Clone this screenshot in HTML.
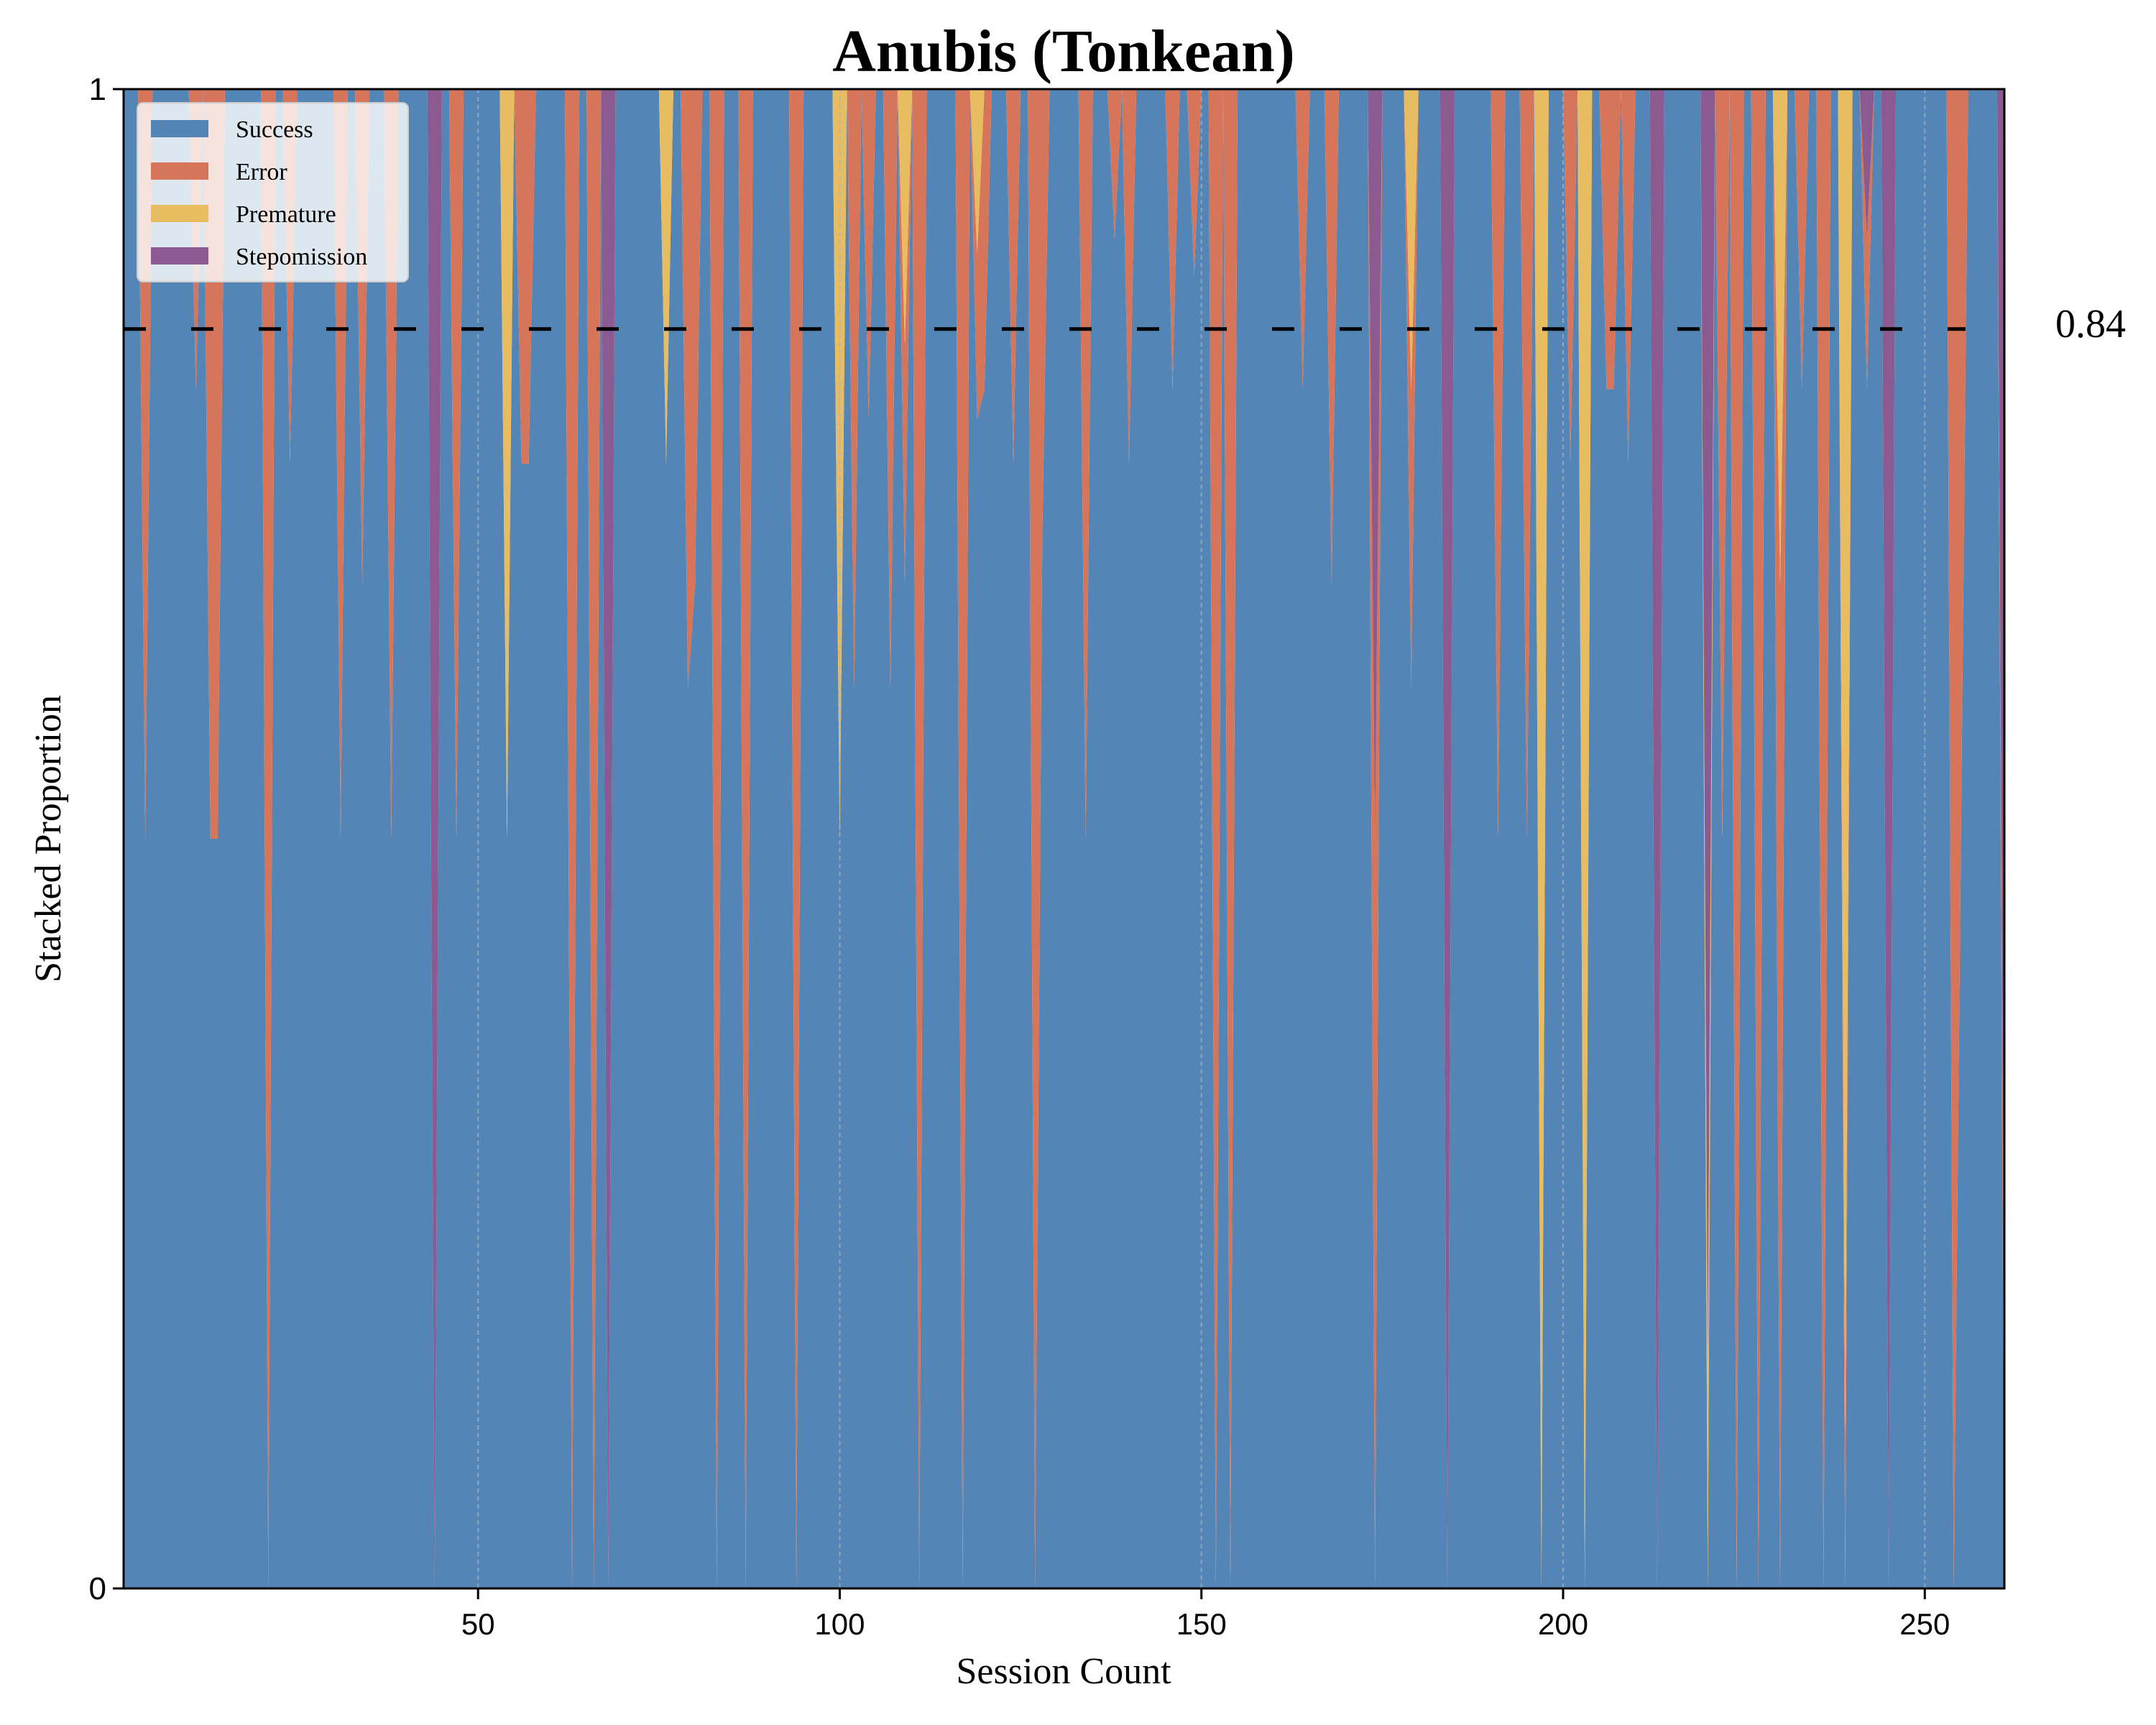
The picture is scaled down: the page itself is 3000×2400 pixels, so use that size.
<!DOCTYPE html>
<html><head><meta charset="utf-8"><style>
html,body{margin:0;padding:0;background:#fff;}
svg{display:block;}
</style></head><body>
<svg id="chart" width="3000" height="2400" viewBox="0 0 3000 2400" xmlns="http://www.w3.org/2000/svg">
<rect x="0" y="0" width="3000" height="2400" fill="#fff"/>
<g id="bands"></g>
<g id="grid"></g>
<g id="ref"></g>
<rect x="172" y="124" width="2617" height="2086" fill="none" stroke="#000" stroke-width="3"/>
<g id="ticks"></g>
<text x="1480" y="99" text-anchor="middle" font-family="Liberation Serif, serif" font-weight="bold" font-size="84">Anubis (Tonkean)</text>
<text x="1480" y="2342" text-anchor="middle" font-family="Liberation Serif, serif" font-size="52">Session Count</text>
<text transform="translate(84,1167) rotate(-90)" text-anchor="middle" font-family="Liberation Serif, serif" font-size="52">Stacked Proportion</text>
<text x="2860" y="469" font-family="Liberation Serif, serif" font-size="56">0.84</text>
<g>
<rect x="191" y="143" width="377" height="249" rx="8" fill="#fff" fill-opacity="0.8" stroke="#ccc" stroke-width="2"/>
<g><rect x="210" y="167" width="80" height="24" fill="#5385b6"/><text x="328" y="191" font-family="Liberation Serif, serif" font-size="34">Success</text></g>
<g><rect x="210" y="226" width="80" height="24" fill="#d6755a"/><text x="328" y="250" font-family="Liberation Serif, serif" font-size="34">Error</text></g>
<g><rect x="210" y="285" width="80" height="24" fill="#e8bc60"/><text x="328" y="309" font-family="Liberation Serif, serif" font-size="34">Premature</text></g>
<g><rect x="210" y="344" width="80" height="24" fill="#8b5a91"/><text x="328" y="368" font-family="Liberation Serif, serif" font-size="34">Stepomission</text></g>
</g>
</svg>
<script>
const sessionCount = 261;
const errorPoints = [[4,0.5],[11,0.2],[13,0.5],[14,0.5],[21,1],[24,0.25],[31,0.5],[34,0.33],[38,0.5],[47,0.5],[56,0.25],[57,0.25],[63,1],[66,1],[79,0.4],[80,0.33],[83,1],[87,1],[94,1],[102,0.4],[104,0.22],[107,0.4],[109,0.16],[111,1],[117,1],[119,0.11],[120,0.2],[124,0.25],[127,1],[128,0.3],[134,0.5],[138,0.1],[140,0.25],[146,0.2],[149,0.125],[152,1],[154,1],[164,0.2],[168,0.33],[174,0.5],[179,0.2],[191,0.5],[195,0.5],[201,0.25],[206,0.2],[207,0.2],[209,0.25],[222,0.5],[224,1],[227,1],[230,0.67],[233,0.2],[236,1],[239,0.1],[242,0.1],[254,1],[255,0.5],[261,0.15]];
const prematurePoints = [[54,0.5],[76,0.25],[100,0.5],[109,0.17],[119,0.11],[179,0.2],[197,1],[203,1],[220,0.15],[230,0.33],[239,0.9]];
const stepPoints = [[44,1],[68,1],[174,0.5],[184,1],[213,1],[220,0.85],[242,0.1],[245,1],[261,0.85]];
const xTicks = [50,100,150,200,250];
const yTicks = [0,1];
const refValue = 0.84;

const NS='http://www.w3.org/2000/svg';
const L=172,R=2789,T=124,B=2210;
function xs(s){return L+(s-1)*(R-L)/(sessionCount-1);}
function ys(v){return B-v*(B-T);}
function expand(pts){const a=new Array(sessionCount).fill(0);pts.forEach(p=>{a[p[0]-1]=p[1];});return a;}
const err=expand(errorPoints), pre=expand(prematurePoints), stp=expand(stepPoints);
const suc=err.map((e,i)=>Math.max(0,1-e-pre[i]-stp[i]));
const series=[['success',suc,'#5385b6'],['error',err,'#d6755a'],['premature',pre,'#e8bc60'],['stepomission',stp,'#8b5a91']];
const bands=document.getElementById('bands');
let base=new Array(sessionCount).fill(0);
series.forEach(([name,vals,col])=>{
  const top=base.map((b,i)=>b+vals[i]);
  let d='M';
  for(let i=0;i<sessionCount;i++) d+=(i?' L':'')+xs(i+1).toFixed(2)+' '+ys(top[i]).toFixed(2);
  for(let i=sessionCount-1;i>=0;i--) d+=' L'+xs(i+1).toFixed(2)+' '+ys(base[i]).toFixed(2);
  d+=' Z';
  const p=document.createElementNS(NS,'path');
  p.setAttribute('d',d);p.setAttribute('fill',col);
  
  
  bands.appendChild(p);
  base=top;
});
const grid=document.getElementById('grid'), ticks=document.getElementById('ticks');
xTicks.forEach(t=>{
  const g=document.createElementNS(NS,'line');
  g.setAttribute('x1',xs(t));g.setAttribute('x2',xs(t));g.setAttribute('y1',T);g.setAttribute('y2',B);
  g.setAttribute('stroke','#a8b4c2');g.setAttribute('stroke-width','2');g.setAttribute('stroke-dasharray','6 5');g.setAttribute('stroke-opacity','0.7');
  
  
  grid.appendChild(g);
  const tk=document.createElementNS(NS,'line');
  tk.setAttribute('x1',xs(t));tk.setAttribute('x2',xs(t));tk.setAttribute('y1',B);tk.setAttribute('y2',B+15);
  tk.setAttribute('stroke','#000');tk.setAttribute('stroke-width','3');
  
  
  ticks.appendChild(tk);
  const tx=document.createElementNS(NS,'text');
  tx.setAttribute('x',xs(t));tx.setAttribute('y',B+64);tx.setAttribute('text-anchor','middle');
  tx.setAttribute('font-family','Liberation Sans, sans-serif');tx.setAttribute('font-size','42');
  tx.textContent=t;
  
  
  ticks.appendChild(tx);
});
yTicks.forEach(t=>{
  const tk=document.createElementNS(NS,'line');
  tk.setAttribute('x1',L-15);tk.setAttribute('x2',L);tk.setAttribute('y1',ys(t));tk.setAttribute('y2',ys(t));
  tk.setAttribute('stroke','#000');tk.setAttribute('stroke-width','3');
  
  
  ticks.appendChild(tk);
  const tx=document.createElementNS(NS,'text');
  tx.setAttribute('x',L-24);tx.setAttribute('y',ys(t)+15);tx.setAttribute('text-anchor','end');
  tx.setAttribute('font-family','Liberation Sans, sans-serif');tx.setAttribute('font-size','44');
  tx.textContent=t;
  
  
  ticks.appendChild(tx);
});
const ref=document.getElementById('ref');
const rl=document.createElementNS(NS,'line');
rl.setAttribute('x1',L);rl.setAttribute('x2',2735);rl.setAttribute('y1',ys(refValue));rl.setAttribute('y2',ys(refValue));
rl.setAttribute('stroke','#000');rl.setAttribute('stroke-width','5');rl.setAttribute('stroke-dasharray','31 63');


ref.appendChild(rl);
</script>
</body></html>
